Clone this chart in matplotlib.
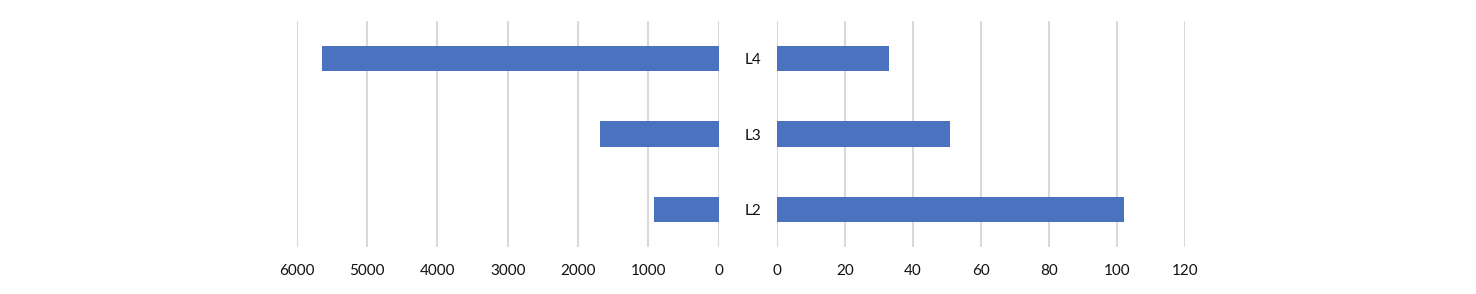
import numpy as np
import matplotlib.pyplot as plt

# values
levels = ['L2', 'L3', 'L4']
left_values = [920, 1690, 5640]
right_values = [102, 51, 33]
left_ticks = [0, 1000, 2000, 3000, 4000, 5000, 6000]
right_ticks = [0, 20, 40, 60, 80, 100, 120]

plt.rcParams['font.family'] = ['Lato', 'DejaVu Sans']
plt.rcParams['font.size'] = 11

bar_color = '#4A72BF'
grid_color = '#D9D9D9'

W, H = 1476, 294
fig = plt.figure(figsize=(W / 100, H / 100), dpi=100)

bottom = (H - 247) / H
height = 226 / H
ax_l = fig.add_axes([296.7 / W, bottom, 422 / W, height])
ax_r = fig.add_axes([776.7 / W, bottom, 408.3 / W, height])

ys = np.arange(len(levels))

# left panel, reversed axis
ax_l.barh(ys, left_values, height=0.34, color=bar_color, zorder=2)
ax_l.set_xlim(6000, 0)
ax_l.set_xticks(left_ticks)
ax_l.set_yticks([])

# right panel
ax_r.barh(ys, right_values, height=0.34, color=bar_color, zorder=2)
ax_r.set_xlim(0, 120)
ax_r.set_xticks(right_ticks)
ax_r.set_yticks(ys)
ax_r.set_yticklabels(levels)
for lab in ax_r.get_yticklabels():
    lab.set_horizontalalignment('center')

for ax in (ax_l, ax_r):
    ax.set_ylim(-0.5, len(levels) - 0.5)
    for s in ax.spines.values():
        s.set_visible(False)
    ax.grid(True, axis='x', color=grid_color, linewidth=1.5, zorder=0)
    ax.tick_params(axis='x', length=0, pad=12, colors='#111111')
    ax.tick_params(axis='y', length=0, pad=17, colors='#111111')
    ax.set_axisbelow(True)

fig.savefig('out.png', dpi=100)
